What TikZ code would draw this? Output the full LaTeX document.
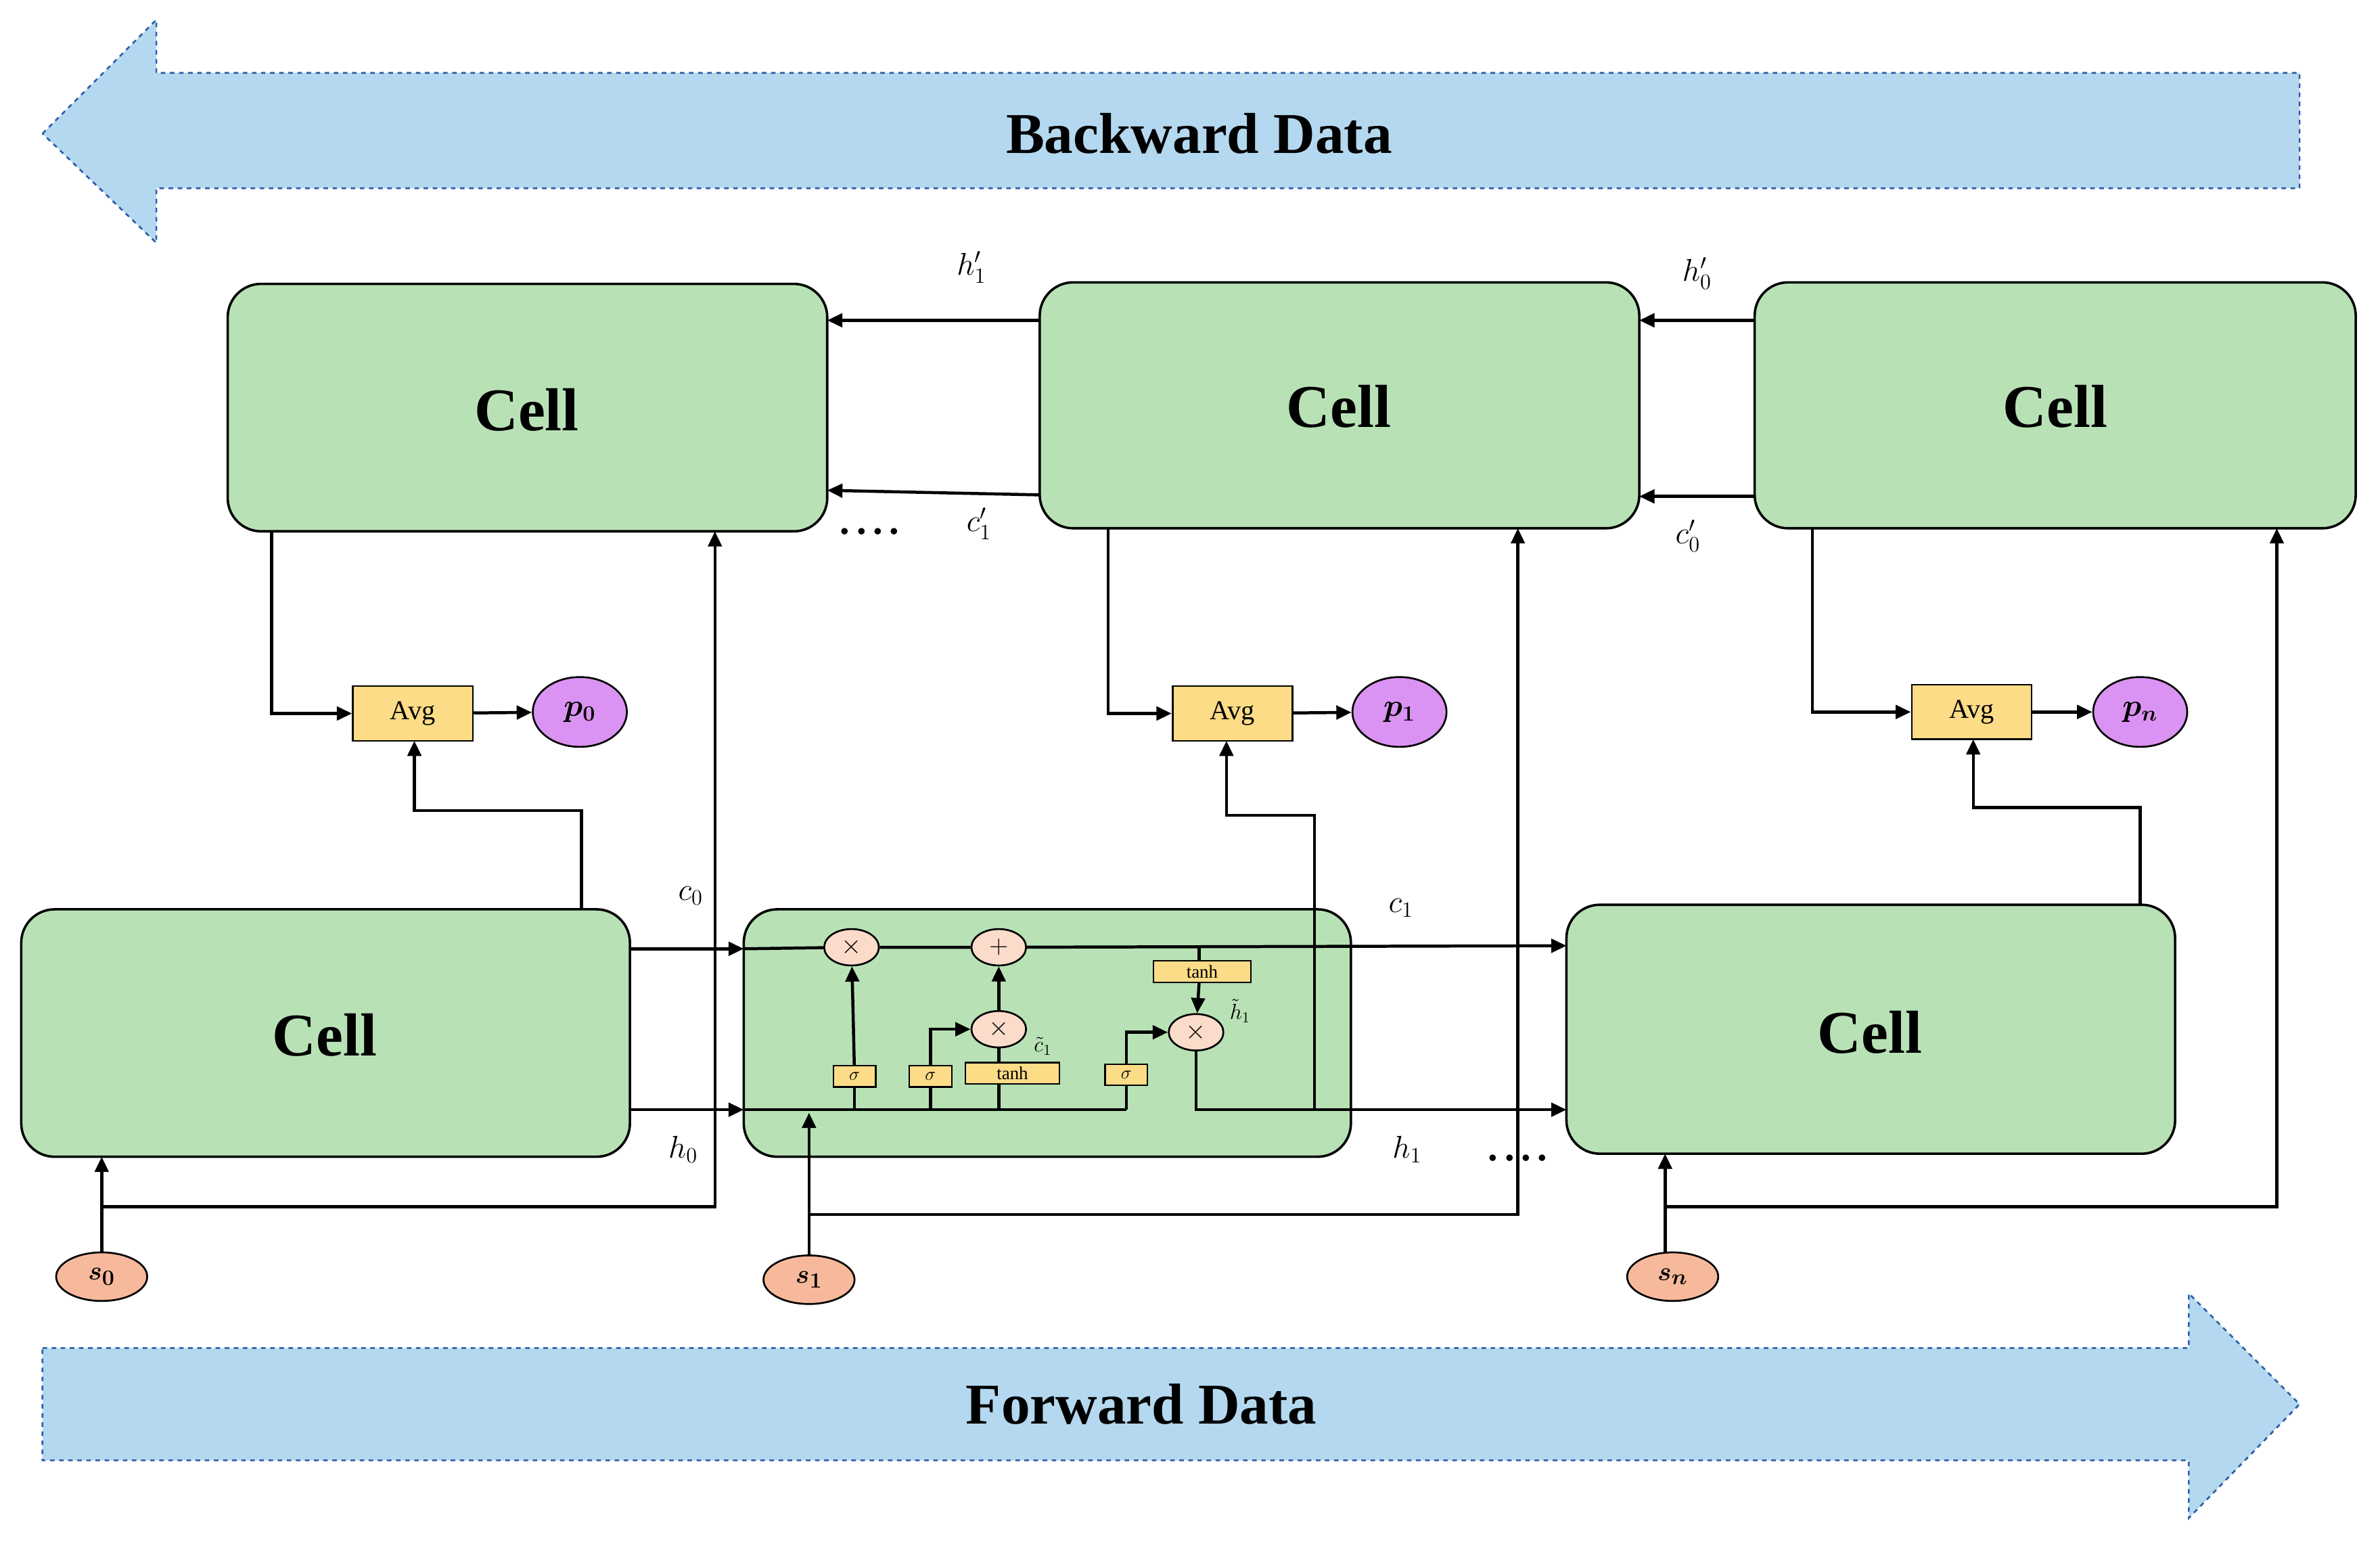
\documentclass[tikz,border=0pt]{standalone}
\usepackage{amsmath,bm}
\usepackage{fontspec}
\setmainfont{Liberation Serif}
\usetikzlibrary{arrows.meta,shapes.geometric}
\definecolor{cellg}{HTML}{B8E2B6}
\definecolor{bluef}{HTML}{B4D8EF}
\definecolor{blued}{HTML}{2E5FA8}
\definecolor{avgy}{HTML}{FDDC87}
\definecolor{pv}{HTML}{DA93F2}
\definecolor{sp}{HTML}{F6B99C}
\definecolor{opc}{HTML}{FBDCCB}
\begin{document}
\begin{tikzpicture}[x=1pt,y=-1pt,
  cell/.style={draw,line width=1.6pt,fill=cellg,rounded corners=22pt},
  celltxt/.style={font=\fontsize{40}{44}\selectfont\bfseries},
  avg/.style={draw,line width=1.2pt,fill=avgy,minimum width=79pt,minimum height=36pt,font=\fontsize{18}{18}\selectfont},
  pn/.style={draw,line width=1.2pt,fill=pv,ellipse,minimum width=62pt,minimum height=46pt,inner sep=0pt,font=\fontsize{20}{20}\selectfont},
  sn/.style={draw,line width=1.2pt,fill=sp,ellipse,minimum width=60pt,minimum height=32pt,inner sep=0pt,font=\fontsize{19}{19}\selectfont},
  op/.style={draw,line width=1.2pt,fill=opc,ellipse,minimum width=36pt,minimum height=24pt,inner sep=0pt,font=\fontsize{16}{16}\selectfont},
  gate/.style={draw,line width=1pt,fill=avgy,minimum height=14pt,inner sep=0pt,font=\fontsize{12}{12}\selectfont},
  ln/.style={line width=2pt},
  ar/.style={line width=2pt,-{Triangle[length=10pt,width=9pt]}},
  big/.style={draw=blued,dashed,line width=1.2pt,fill=bluef},
  lab/.style={font=\fontsize{22}{22}\selectfont},
  dots/.style={font=\fontsize{26}{26}\selectfont\bfseries}]
\useasboundingbox (0,0) rectangle (1568,1017);
% big arrows
\draw[big] (28,88) -- (103,13) -- (103,48) -- (1515,48) -- (1515,124) -- (103,124) -- (103,160) -- cycle;
\node[font=\fontsize{38}{42}\selectfont\bfseries] (bd) at (790,88) {Backward Data};
\draw[big] (28,888) -- (1442,888) -- (1442,852) -- (1515,925) -- (1442,1000) -- (1442,962) -- (28,962) -- cycle;
\node[font=\fontsize{38}{42}\selectfont\bfseries] (fd) at (752,925) {Forward Data};
% top cells
\draw[cell] (150,187) rectangle (545,350); \node[celltxt] (t1) at (347,270) {Cell};
\draw[cell] (685,186) rectangle (1080,348); \node[celltxt] (t2) at (882,268) {Cell};
\draw[cell] (1156,186) rectangle (1552,348); \node[celltxt] (t3) at (1354,268) {Cell};
% bottom cells
\draw[cell] (14,599) rectangle (415,762); \node[celltxt] (b1) at (214,682) {Cell};
\draw[cell] (490,599) rectangle (890,762);
\draw[cell] (1032,596) rectangle (1433,760); \node[celltxt] (b3) at (1232,680) {Cell};
% backward connections
\draw[ar] (685,211) -- (545,211);
\draw[ar] (685,326) -- (545,323);
\draw[ar] (1156,211) -- (1080,211);
\draw[ar] (1156,327) -- (1080,327);
\node[lab] (l1) at (640,176) {$h'_1$};
\node[lab] (l2) at (645,345) {$c'_1$};
\node[lab] (l3) at (1118,180) {$h'_0$};
\node[lab] (l4) at (1112,353) {$c'_0$};
\node[dots] (d1) at (573,350) {.\,.\,.\,.};
\node[dots] (d2) at (1000,763) {.\,.\,.\,.};
% avg & p
\node[avg] (a1) at (272,470) {Avg};
\node[avg] (a2) at (812,470) {Avg};
\node[avg] (a3) at (1299,469) {Avg};
\node[pn] (p0) at (382,469) {$\bm{p_0}$};
\node[pn] (p1) at (922,469) {$\bm{p_1}$};
\node[pn] (pN) at (1410,469) {$\bm{p_n}$};
\draw[ar] (a1) -- (p0); \draw[ar] (a2) -- (p1); \draw[ar] (a3) -- (pN);
\draw[ar] (179,350) |- (a1.west);
\draw[ar] (730,348) |- (a2.west);
\draw[ar] (1194,348) |- (a3.west);
\draw[ar] (383,599) -- (383,534) -- (273,534) -- (273,488);
\draw[ar] (866,731) -- (866,537) -- (808,537) -- (808,488);
\draw[ar] (1410,596) -- (1410,532) -- (1300,532) -- (1300,487);
% forward lines
\draw[ar] (415,625) -- (490,625);
\draw[ar] (415,731) -- (490,731);
\node[lab] (c0) at (455,590) {$c_0$};
\node[lab] (h0) at (450,757) {$h_0$};
\node[lab] (c1) at (923,598) {$c_1$};
\node[lab] (h1) at (927,757) {$h_1$};
% inner LSTM
\node[op] (x1) at (561,624) {$\times$};
\node[op] (pl) at (658,624) {$+$};
\node[op] (x2) at (658,678) {$\times$};
\node[op] (x3) at (788,680) {$\times$};
\node[gate,minimum width=64pt] (th2) at (792,640) {tanh};
\node[gate,minimum width=28pt] (g1) at (563,709) {$\sigma$};
\node[gate,minimum width=28pt] (g2) at (613,709) {$\sigma$};
\node[gate,minimum width=62pt] (th1) at (667,707) {tanh};
\node[gate,minimum width=28pt] (g3) at (742,708) {$\sigma$};
\node[font=\fontsize{14}{14}\selectfont] (ct) at (687,689) {$\tilde c_1$};
\node[font=\fontsize{14}{14}\selectfont] (ht) at (817,666) {$\tilde h_1$};
\draw[ln] (490,625) -- (x1) -- (pl);
\draw[ar] (pl) -- (1032,623);
\draw[ln] (490,731) -- (742,731);
\draw[ln] (563,731) -- (g1); \draw[ar] (g1) -- (x1);
\draw[ln] (613,731) -- (g2); \draw[ar] (g2.north) |- (x2.west);
\draw[ln] (658,731) -- (658,714); \draw[ln] (658,700) -- (x2); \draw[ar] (x2) -- (pl);
\draw[ln] (742,731) -- (g3); \draw[ar] (g3.north) |- (x3.west);
\draw[ln] (790,624) -- (790,633); \draw[ar] (790,647) -- (x3);
\draw[ar] (x3) |- (1032,731);
% s nodes
\node[sn] (s0) at (67,841) {$\bm{s_0}$};
\node[sn] (s1) at (533,843) {$\bm{s_1}$};
\node[sn] (sN) at (1102,841) {$\bm{s_n}$};
\draw[ar] (67,825) -- (67,762);
\draw[ar] (67,795) -- (471,795) -- (471,350);
\draw[ar] (533,827) -- (533,733);
\draw[ar] (533,800) -- (1000,800) -- (1000,348);
\draw[ar] (1097,825) -- (1097,760);
\draw[ar] (1097,795) -- (1500,795) -- (1500,348);
\end{tikzpicture}
\end{document}
